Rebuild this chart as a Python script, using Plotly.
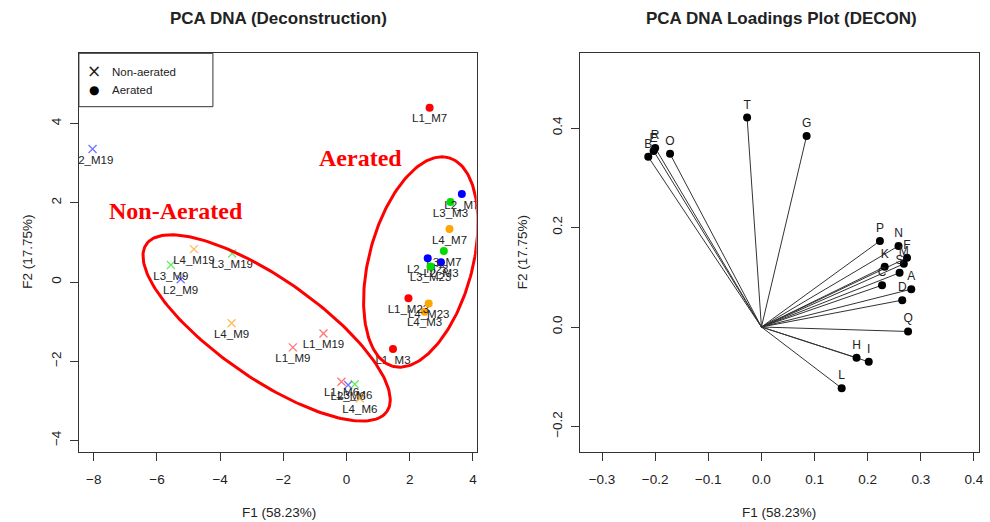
import numpy as np
import plotly.graph_objects as go

W, H = 990, 522

# ---------------- data: scores ----------------
na_names = ["L1_M6", "L2_M6", "L3_M6", "L4_M6", "L1_M9", "L2_M9", "L3_M9", "L4_M9",
            "L1_M19", "L2_M19", "L3_M19", "L4_M19"]
na_f1 = [-0.16, 0.05, 0.26, 0.42, -1.70, -5.25, -5.56, -3.64, -0.73, -8.04, -3.62, -4.83]
na_f2 = [-2.52, -2.60, -2.58, -2.94, -1.65, 0.07, 0.43, -1.04, -1.30, 3.36, 0.72, 0.83]

ae_names = ["L1_M3", "L2_M3", "L3_M3", "L4_M3", "L1_M7", "L2_M7", "L3_M7", "L4_M7",
            "L1_M23", "L2_M23", "L3_M23", "L4_M23"]
ae_f1 = [1.47, 2.99, 3.29, 2.47, 2.63, 3.65, 3.08, 3.26, 1.96, 2.57, 2.66, 2.60]
ae_f2 = [-1.69, 0.50, 2.02, -0.75, 4.40, 2.22, 0.78, 1.34, -0.41, 0.60, 0.39, -0.54]

line_colors = {"L1": "rgb(255,0,0)", "L2": "rgb(0,0,255)", "L3": "rgb(0,220,0)", "L4": "rgb(255,165,0)"}
line_colors_na = {"L1": "rgba(255,0,0,0.55)", "L2": "rgba(0,0,255,0.55)",
                  "L3": "rgba(0,220,0,0.6)", "L4": "rgba(255,150,0,0.65)"}

# ellipses: centre, major semi-axis vector, minor semi-axis vector (data units)
ell_na = dict(c=(-2.53, -1.16), u=(3.81, -2.11), v=(-0.894, -1.04))
ell_ae = dict(c=(2.35, 0.505), u=(0.882, 2.634), v=(1.581, -0.341))

# ---------------- data: loadings ----------------
load_names = ["T", "G", "O", "B", "E", "R", "P", "N", "F", "M", "S", "K", "C", "A", "D", "Q", "H", "I", "L"]
load_f1 = [-0.027, 0.085, -0.172, -0.213, -0.203, -0.200, 0.223, 0.258, 0.274, 0.268, 0.260,
           0.232, 0.227, 0.282, 0.265, 0.276, 0.179, 0.202, 0.151]
load_f2 = [0.421, 0.384, 0.348, 0.342, 0.354, 0.360, 0.173, 0.163, 0.139, 0.127, 0.109,
           0.121, 0.084, 0.076, 0.054, -0.009, -0.062, -0.070, -0.123]

x1_ticks = [-8, -6, -4, -2, 0, 2, 4]
y1_ticks = [-4, -2, 0, 2, 4]
x2_ticks = [-0.3, -0.2, -0.1, 0.0, 0.1, 0.2, 0.3, 0.4]
y2_ticks = [-0.2, 0.0, 0.2, 0.4]

# ---------------- layout geometry (pixels) ----------------
L_x0, L_x1 = 79.3, 479.0
R_x0, R_x1 = 583.3, 984.0
P_y0, P_y1 = 53.3, 452.3


def px(xpix):
    return xpix / W


def py(ypix):
    return 1 - ypix / H


fig = go.Figure()

FONT = "Liberation Sans, Arial, sans-serif"
TXT = "#222222"

# non-aerated points
for n, x, y in zip(na_names, na_f1, na_f2):
    g = n.split("_")[0]
    fig.add_trace(go.Scatter(
        x=[x], y=[y], mode="markers+text", text=[n], textposition="bottom center",
        textfont=dict(size=11.5, color=TXT, family=FONT),
        marker=dict(symbol="x-thin", size=8, line=dict(width=1.3, color=line_colors_na[g])),
        xaxis="x", yaxis="y", showlegend=False, hoverinfo="skip", cliponaxis=True))

# aerated points
for n, x, y in zip(ae_names, ae_f1, ae_f2):
    g = n.split("_")[0]
    fig.add_trace(go.Scatter(
        x=[x], y=[y], mode="markers+text", text=[n], textposition="bottom center",
        textfont=dict(size=11.5, color=TXT, family=FONT),
        marker=dict(symbol="circle", size=8, color=line_colors[g]),
        xaxis="x", yaxis="y", showlegend=False, hoverinfo="skip", cliponaxis=True))

# ellipses
t = np.linspace(0, 2 * np.pi, 200)
for e in (ell_na, ell_ae):
    ex = e["c"][0] + np.cos(t) * e["u"][0] + np.sin(t) * e["v"][0]
    ey = e["c"][1] + np.cos(t) * e["u"][1] + np.sin(t) * e["v"][1]
    fig.add_trace(go.Scatter(x=ex, y=ey, mode="lines", line=dict(color="red", width=3),
                             xaxis="x", yaxis="y", showlegend=False, hoverinfo="skip"))

# loadings lines
lx, ly = [], []
for x, y in zip(load_f1, load_f2):
    lx += [0, x, None]
    ly += [0, y, None]
fig.add_trace(go.Scatter(x=lx, y=ly, mode="lines", line=dict(color="#333333", width=1),
                         xaxis="x2", yaxis="y2", showlegend=False, hoverinfo="skip"))
fig.add_trace(go.Scatter(x=load_f1, y=load_f2, mode="markers+text", text=load_names,
                         textposition="top center",
                         textfont=dict(size=12, color=TXT, family=FONT),
                         marker=dict(size=8, color="black"),
                         xaxis="x2", yaxis="y2", showlegend=False, hoverinfo="skip"))

axis_common = dict(showgrid=False, zeroline=False, showline=True, mirror=True,
                   linecolor="#333333", linewidth=1, ticks="outside", ticklen=8,
                   tickcolor="#333333", tickfont=dict(size=13.5, color=TXT, family=FONT))

L_xr = [(L_x0 - 348.3) / 31.75, (L_x1 - 348.3) / 31.75]
L_yr = [(282 - P_y1) / 39.6, (282 - P_y0) / 39.6]
R_xr = [(R_x0 - 765.3) / 534, (R_x1 - 765.3) / 534]
R_yr = [(327 - P_y1) / 497.5, (327 - P_y0) / 497.5]

fig.update_layout(
    width=W, height=H, margin=dict(l=0, r=0, t=0, b=0),
    paper_bgcolor="white", plot_bgcolor="white", showlegend=False,
    xaxis=dict(domain=[px(L_x0), px(L_x1)], range=L_xr, tickvals=x1_ticks,
               ticklabelstandoff=6, anchor="y", **axis_common),
    yaxis=dict(domain=[py(P_y1), py(P_y0)], range=L_yr, tickvals=y1_ticks, tickangle=-90,
               ticklabelstandoff=4, anchor="x", **axis_common),
    xaxis2=dict(domain=[px(R_x0), px(R_x1)], range=R_xr, tickvals=x2_ticks, tickformat=".1f",
                ticklabelstandoff=6, anchor="y2", **axis_common),
    yaxis2=dict(domain=[py(P_y1), py(P_y0)], range=R_yr, tickvals=y2_ticks, tickformat=".1f",
                tickangle=-90, ticklabelstandoff=4, anchor="x2", **axis_common),
)


def note(text, x, y, size, xanchor="center", **kw):
    d = dict(text=text, x=px(x), y=py(y), xref="paper", yref="paper", xanchor=xanchor,
             yanchor="middle", showarrow=False,
             font=dict(size=size, color=kw.pop("color", TXT), family=kw.pop("family", FONT)))
    d.update(kw)
    return d


ann = []
# titles
ann.append(note("<b>PCA DNA (Deconstruction)</b>", 280, 19, 17))
ann.append(note("<b>PCA DNA Loadings Plot (DECON)</b>", 785, 19, 17))
# axis titles
for cx in (280, 783):
    ann.append(note("F1 (58.23%)", cx, 512, 13.5))
for cx in (27, 525):
    ann.append(note("F2 (17.75%)", cx, 252, 13.5, textangle=-90))
# group labels
ann.append(dict(text="<b>Non-Aerated</b>", x=-5.40, y=1.79, xref="x", yref="y", showarrow=False,
                xanchor="center", yanchor="middle",
                font=dict(size=24, color="red", family="Liberation Serif, Times New Roman, serif")))
ann.append(dict(text="<b>Aerated</b>", x=0.43, y=3.13, xref="x", yref="y", showarrow=False,
                xanchor="center", yanchor="middle",
                font=dict(size=24, color="red", family="Liberation Serif, Times New Roman, serif")))
# legend
ann.append(note("×", 94.3, 71.2, 17, color="#222", family="DejaVu Sans"))
ann.append(note("●", 94.3, 90, 12, color="#000", family="DejaVu Sans"))
ann.append(note("Non-aerated", 110.7, 72, 11.5, xanchor="left"))
ann.append(note("Aerated", 110.7, 90, 11.5, xanchor="left"))
fig.update_layout(annotations=ann)

fig.add_shape(type="rect", xref="paper", yref="paper", x0=px(L_x0), x1=px(214), y0=py(106.7), y1=py(P_y0),
              line=dict(color="#333333", width=1), fillcolor="rgba(0,0,0,0)")

fig.write_html("out.html")
